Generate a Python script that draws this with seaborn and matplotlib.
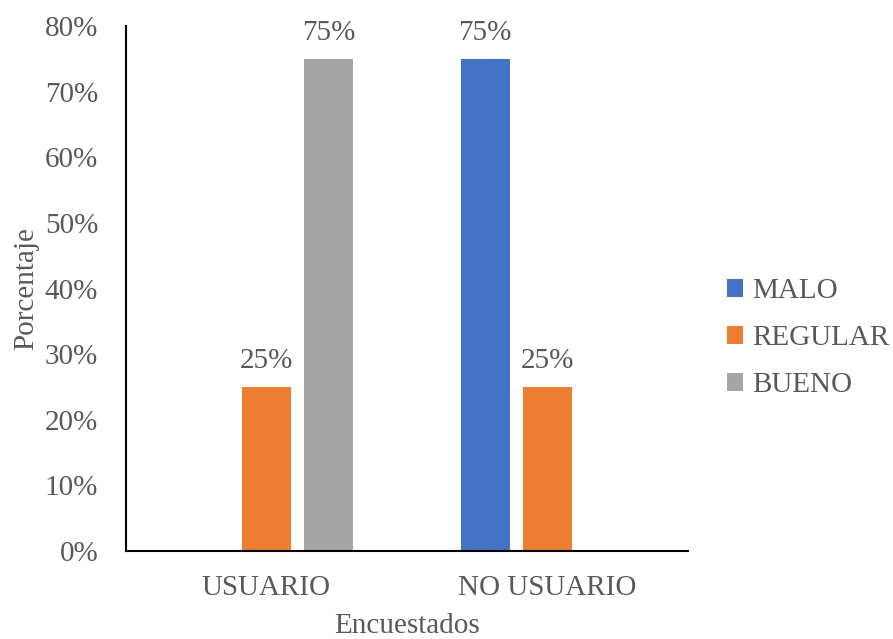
import matplotlib
matplotlib.use("Agg")
import matplotlib.pyplot as plt
import seaborn as sns
import pandas as pd
from matplotlib.ticker import PercentFormatter

categories = ["USUARIO", "NO USUARIO"]
niveles = ["MALO", "REGULAR", "BUENO"]
malo = [0.0, 0.75]
regular = [0.25, 0.25]
bueno = [0.75, 0.0]
colors = ["#4472C4", "#ED7D31", "#A5A5A5"]

rows = []
for nivel, vals in zip(niveles, [malo, regular, bueno]):
    for c, v in zip(categories, vals):
        rows.append({"Encuestados": c, "Nivel": nivel, "Porcentaje": v})
df = pd.DataFrame(rows)

sns.set_style("white")
plt.rcParams["font.family"] = ["Liberation Serif", "DejaVu Serif"]
txt = "#595959"
fs = 21

fig = plt.figure(figsize=(8.93, 6.39), dpi=100)
ax = fig.add_axes([0.1411, 0.1377, 0.629, 0.8216])

sns.barplot(data=df, x="Encuestados", y="Porcentaje", hue="Nivel",
            order=categories, hue_order=niveles, palette=colors,
            width=0.662, gap=0.21, ax=ax, saturation=1, errorbar=None,
            linewidth=0, edgecolor="none")

for cont in ax.containers:
    labels = [f"{v*100:.0f}%" if v > 0 else "" for v in cont.datavalues]
    ax.bar_label(cont, labels=labels, padding=9, fontsize=fs, color=txt)

ax.set_ylim(0, 0.8)
ax.set_xlim(-0.5, 1.5)
ax.set_yticks([i / 10 for i in range(9)])
ax.yaxis.set_major_formatter(PercentFormatter(1.0, decimals=0))
ax.tick_params(axis="both", length=0, labelsize=fs, labelcolor=txt)
ax.tick_params(axis="y", pad=20)
ax.tick_params(axis="x", pad=17)

for s in ["top", "right"]:
    ax.spines[s].set_visible(False)
ax.spines["left"].set_color("black")
ax.spines["bottom"].set_color("black")
ax.spines["left"].set_linewidth(1.5)
ax.spines["bottom"].set_linewidth(1.5)

ax.set_xlabel("Encuestados", fontsize=fs, color=txt, labelpad=9)
ax.set_ylabel("Porcentaje", fontsize=fs, color=txt, labelpad=4)

ax.legend(loc="center left", bbox_to_anchor=(1.07, 0.405), frameon=False,
          fontsize=fs, handlelength=0.55, handleheight=0.55, handletextpad=0.3,
          labelspacing=0.72, borderpad=0, borderaxespad=0, labelcolor=txt)

fig.savefig("out.png", dpi=100)
